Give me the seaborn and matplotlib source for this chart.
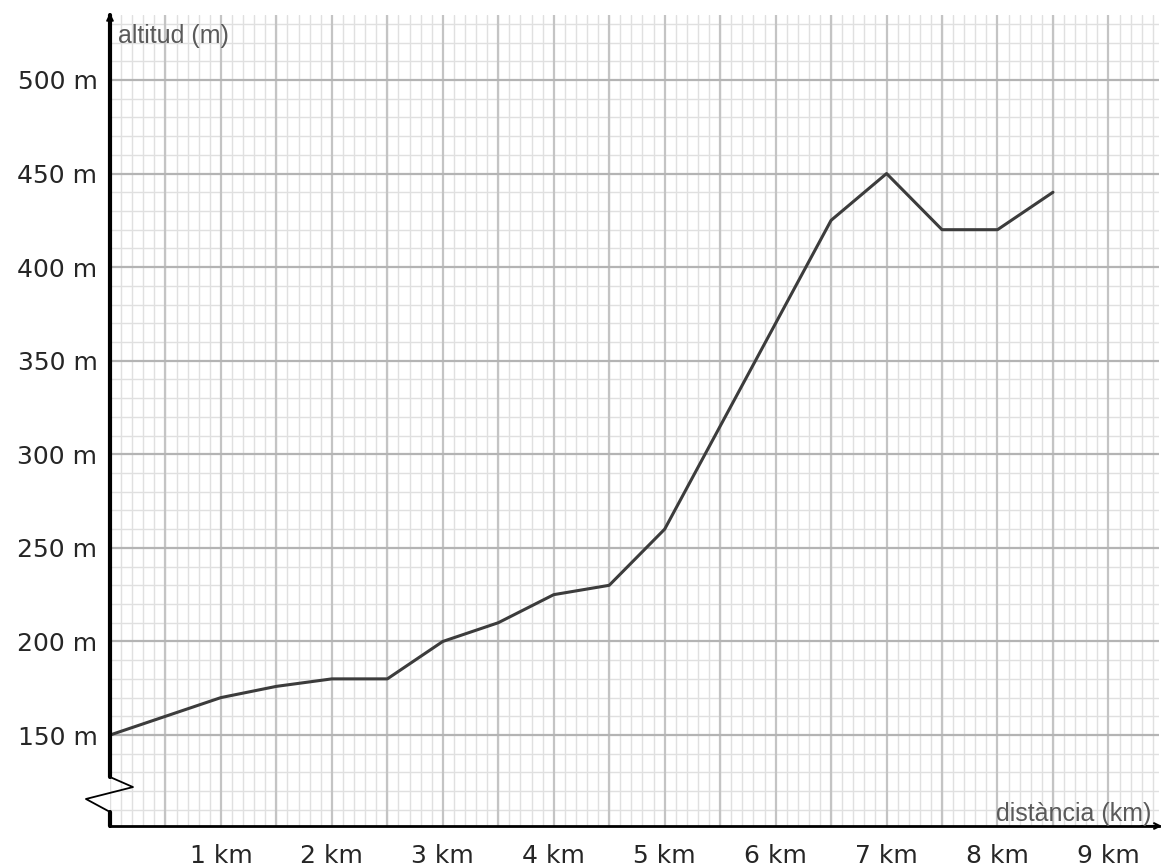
import matplotlib
matplotlib.use("Agg")
import matplotlib.pyplot as plt
import seaborn as sns
import numpy as np

# profile of the route (distance in km, altitude in m)
distancia = [0, 0.5, 1, 1.5, 2, 2.5, 3, 3.5, 4, 4.5, 5, 5.5, 6, 6.5, 7, 7.5, 8, 8.5]
altitud = [150, 160, 170, 176, 180, 180, 200, 210, 225, 230, 260, 315, 370, 425, 450, 420, 420, 440]

x_ticks = [1, 2, 3, 4, 5, 6, 7, 8, 9]
x_labels = ["1 km", "2 km", "3 km", "4 km", "5 km", "6 km", "7 km", "8 km", "9 km"]
y_ticks = [150, 200, 250, 300, 350, 400, 450, 500]
y_labels = ["150 m", "200 m", "250 m", "300 m", "350 m", "400 m", "450 m", "500 m"]

sns.set_style("white")
plt.rcParams['font.family'] = ['DejaVu Sans']

fig = plt.figure(figsize=(11.7, 8.68), dpi=100)
ax = fig.add_axes([0.094, 0.0484, 0.897, 0.9343])

sns.lineplot(x=distancia, y=altitud, ax=ax, color="#3c3c3c", linewidth=2.2, zorder=5)

ax.set_xlim(0, 9.46)
ax.set_ylim(101.4, 534.7)

# millimetre paper grid
ax.set_xticks(np.arange(0, 9.5, 0.1), minor=True)
ax.set_yticks(np.arange(110, 535, 10), minor=True)
ax.grid(which="minor", color="#e0e0e0", linewidth=1.0, zorder=0)
for xv in np.arange(0.5, 9.5, 0.5):
    ax.axvline(xv, color="#c4c4c4", linewidth=1.6, zorder=1)
for yv in y_ticks:
    ax.axhline(yv, color="#b4b4b4", linewidth=1.6, zorder=1)

ax.set_xticks(x_ticks)
ax.set_xticklabels(x_labels, fontsize=18, family="DejaVu Sans")
ax.set_yticks(y_ticks)
ax.set_yticklabels(y_labels, fontsize=18, family="DejaVu Sans")
ax.tick_params(axis="both", which="major", length=2, width=1, color="#333333")
ax.tick_params(axis="x", which="major", pad=11)
ax.tick_params(axis="y", which="major", pad=7)
ax.tick_params(which="minor", length=0)

for s in ["top", "right", "left"]:
    ax.spines[s].set_visible(False)
ax.spines["bottom"].set_linewidth(2)
ax.spines["bottom"].set_color("black")

# left axis with break symbol
ax.plot([0, 0], [0.0604, 1.0], transform=ax.transAxes, color="black", lw=3, clip_on=False, zorder=6)
ax.plot([0, 0.0219, -0.0229, 0], [0.0604, 0.048, 0.0333, 0.0173],
        transform=ax.transAxes, color="black", lw=1.3, clip_on=False, zorder=6)
ax.plot([0, 0], [0.0, 0.0173], transform=ax.transAxes, color="black", lw=3, clip_on=False, zorder=6)

# arrows
ax.annotate("", xy=(0, 1.006), xytext=(0, 0.98), xycoords="axes fraction",
            arrowprops=dict(arrowstyle="->", lw=1.5, color="black"), zorder=7)
ax.annotate("", xy=(1.005, 0), xytext=(0.98, 0), xycoords="axes fraction",
            arrowprops=dict(arrowstyle="->", lw=1.5, color="black"), zorder=7)

ax.text(0.0076, 0.9655, "altitud (m)", transform=ax.transAxes, fontsize=18,
        color="#5a5a5a", family="Liberation Sans", ha="left", va="baseline", zorder=7)
ax.text(0.992, 0.006, "distància (km)", transform=ax.transAxes, fontsize=18,
        color="#5a5a5a", family="Liberation Sans", ha="right", va="baseline", zorder=7)

fig.savefig("out.png", dpi=100)
